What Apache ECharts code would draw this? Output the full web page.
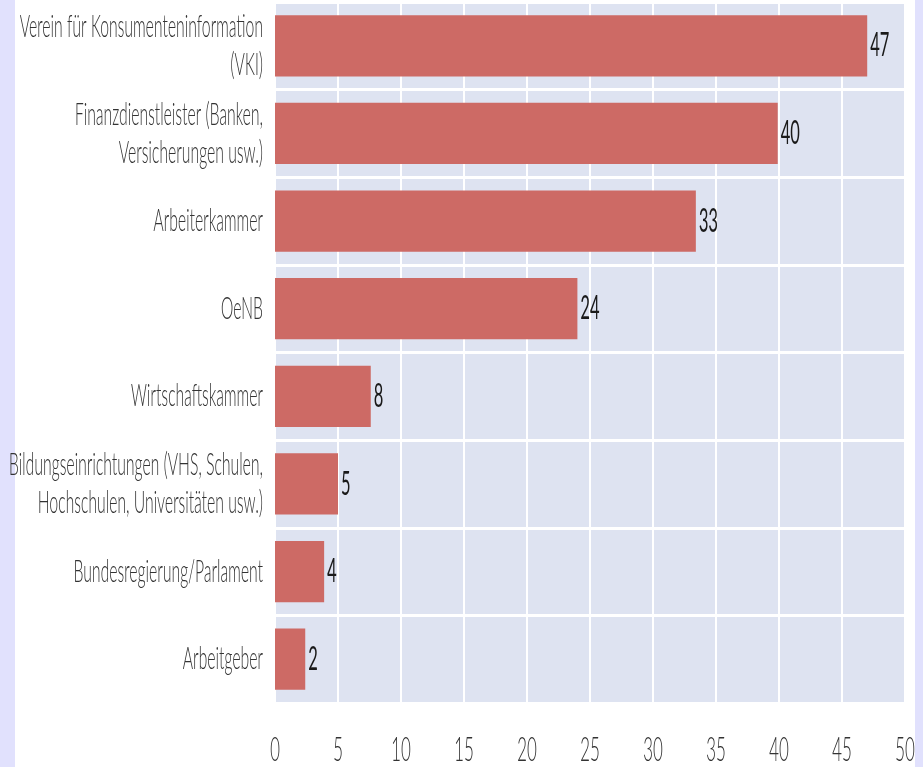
<!DOCTYPE html>
<html>
<head>
<meta charset="utf-8">
<script src="https://cdn.jsdelivr.net/npm/echarts@6/dist/echarts.min.js"></script>
<style>
    html, body { margin:0; padding:0; width:923px; height:767px; overflow:hidden; background:#e1e1fd; }
    #panel { position:absolute; left:15px; top:0; width:900px; height:767px; background:#fff; }
    /* die Vorlage ist horizontal gestaucht, deshalb wird der Chart doppelt so breit gezeichnet und skaliert */
    #chart { position:absolute; left:0; top:0; width:1846px; height:767px; transform:scaleX(0.5); transform-origin:0 0; }
</style>
</head>
<body>
<div id="panel"></div>
<div id="chart"></div>
<script>
var SX = 0.5;   // horizontale Stauchung

/* Kategorien (von oben nach unten) */
var arrCategories = [
    'Verein für Konsumenteninformation\n(VKI)',
    'Finanzdienstleister (Banken,\nVersicherungen usw.)',
    'Arbeiterkammer',
    'OeNB',
    'Wirtschaftskammer',
    'Bildungseinrichtungen (VHS, Schulen,\nHochschulen, Universitäten usw.)',
    'Bundesregierung/Parlament',
    'Arbeitgeber'
];

/* Werte in Prozent */
var arrValues = [47.0, 39.9, 33.4, 24.0, 7.6, 5.0, 3.9, 2.4];

/* x-Achse */
var xMin = 0;
var xMax = 50;
var xStep = 5;

function drawChart(id){
    var myChart = echarts.init(document.getElementById(id));
    var option = {
        animation:false,
        grid:{
            left:275/SX,
            right:18/SX,
            top:2,
            bottom:63,
            show:true,
            backgroundColor:'#dee3f1',
            borderWidth:0
        },
        xAxis:{
            type:'value',
            min:xMin,
            max:xMax,
            interval:xStep,
            axisLine:{ show:false },
            axisTick:{ show:false },
            axisLabel:{
                margin:30,
                fontFamily:'Lato',
                fontWeight:300,
                fontSize:34,
                color:'#333'
            },
            splitLine:{
                show:true,
                lineStyle:{ color:'#ffffff', width:2/SX }
            }
        },
        yAxis:{
            type:'category',
            inverse:true,
            data:arrCategories,
            axisLine:{ show:false },
            axisTick:{ show:false },
            axisLabel:{
                margin:12/SX,
                fontFamily:'Lato',
                fontWeight:300,
                fontSize:31.5,
                lineHeight:38,
                color:'#333',
                align:'right'
            },
            splitLine:{
                show:true,
                lineStyle:{ color:'#ffffff', width:3 }
            }
        },
        series:[{
            type:'bar',
            data:arrValues,
            barCategoryGap:'30%',
            itemStyle:{ color:'#cd6a65' },
            label:{
                show:true,
                position:'right',
                distance:3/SX,
                fontFamily:'Lato',
                fontSize:33,
                color:'#1a1a1a',
                formatter:function(p){ return Math.round(p.value); }
            }
        }]
    };
    myChart.setOption(option);
}

drawChart('chart');
</script>
</body>
</html>
